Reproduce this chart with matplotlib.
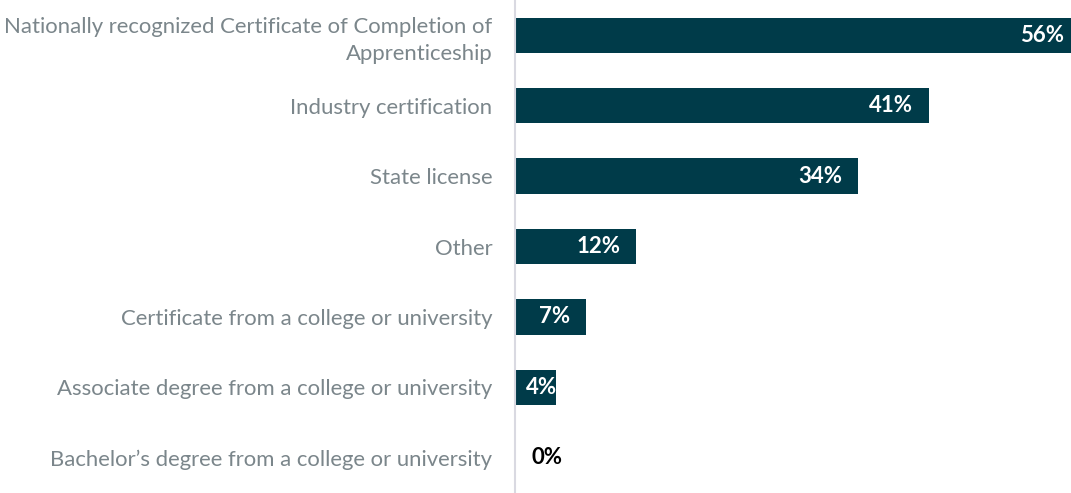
import matplotlib
matplotlib.use("Agg")
import matplotlib.pyplot as plt

categories = [
    "Nationally recognized Certificate of Completion of\nApprenticeship",
    "Industry certification",
    "State license",
    "Other",
    "Certificate from a college or university",
    "Associate degree from a college or university",
    "Bachelor\u2019s degree from a college or university",
]
values = [56, 41, 34, 12, 7, 4, 0]
value_labels = ["56%", "41%", "34%", "12%", "7%", "4%", "0%"]

BAR_COLOR = "#003B49"
TEXT_GRAY = "#7b868b"
AXIS_GRAY = "#d9d9e1"

plt.rcParams["font.family"] = ["Lato", "DejaVu Sans"]

fig = plt.figure(figsize=(10.71, 4.93), dpi=100)
ax = fig.add_axes([0.481, 0.0, 0.519, 1.0])

ypos = list(range(len(categories)))
ax.barh(ypos, values, height=0.5, color=BAR_COLOR)

ax.set_xlim(0, 55.1)
ax.set_ylim(len(categories) - 0.5, -0.5)

ax.set_yticks(ypos)
ax.set_yticklabels(categories, fontsize=15.9, color=TEXT_GRAY, linespacing=1.45)
ax.tick_params(axis="y", length=0, pad=16.5)
ax.set_xticks([])

for side in ("top", "right", "bottom"):
    ax.spines[side].set_visible(False)
ax.spines["left"].set_color(AXIS_GRAY)
ax.spines["left"].set_linewidth(1.5)

label_kw = dict(textcoords="offset points", va="center", fontsize=16, fontweight="bold")
for y, v, lab in zip(ypos, values, value_labels):
    if v >= 5:
        ax.annotate(lab, xy=(v, y), xytext=(-16 * 0.72, 0), ha="right",
                    color="white", annotation_clip=False, **label_kw)
    elif v > 0:
        ax.annotate(lab, xy=(0, y), xytext=(11 * 0.72, 0), ha="left",
                    color="white", **label_kw)
    else:
        ax.annotate(lab, xy=(0, y), xytext=(16 * 0.72, 0), ha="left",
                    color="black", **label_kw)

fig.savefig("out.png", dpi=100)
